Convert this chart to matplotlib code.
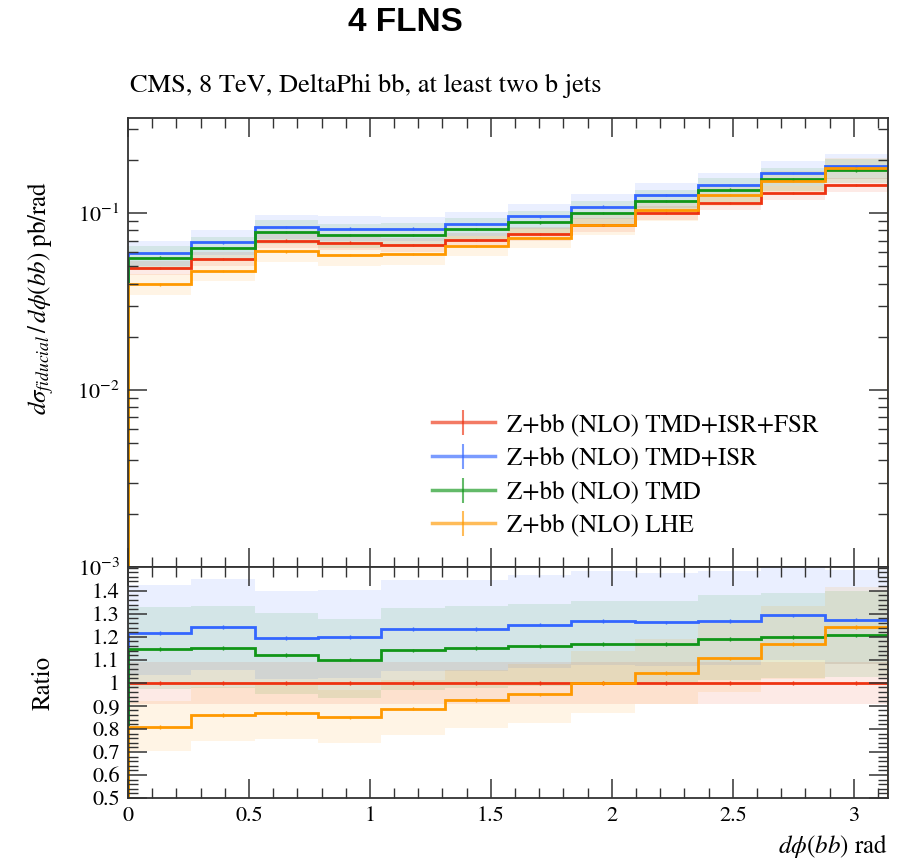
import numpy as np
import matplotlib.pyplot as plt
from matplotlib.lines import Line2D
from matplotlib.ticker import FixedLocator, MultipleLocator, LogLocator, NullFormatter

plt.rcParams['font.family'] = ['STIXGeneral', 'DejaVu Serif']
plt.rcParams['mathtext.fontset'] = 'stix'

# 12 bins in delta phi between the two b jets
edges = np.linspace(0, np.pi, 13)

# reference prediction (TMD+ISR+FSR), pb/rad
xsec_full = [0.0489, 0.0550, 0.0700, 0.0682, 0.0662, 0.0706,
             0.0764, 0.0859, 0.1000, 0.1140, 0.1300, 0.1445]

# ratios to the reference prediction
ratio_isr = [1.216, 1.241, 1.194, 1.200, 1.235, 1.235,
             1.253, 1.268, 1.262, 1.268, 1.293, 1.275]
ratio_tmd = [1.147, 1.150, 1.122, 1.101, 1.141, 1.150,
             1.159, 1.168, 1.169, 1.191, 1.200, 1.206]
ratio_lhe = [0.809, 0.860, 0.868, 0.850, 0.888, 0.926,
             0.950, 1.000, 1.044, 1.106, 1.168, 1.243]

labels = ['Z+bb (NLO) TMD+ISR+FSR', 'Z+bb (NLO) TMD+ISR',
          'Z+bb (NLO) TMD', 'Z+bb (NLO) LHE']
colors = ['#EE3311', '#3366FF', '#109618', '#FF9900']
# relative size of the uncertainty bands (up, down)
band_up = [0.09, 0.17, 0.16, 0.14]
band_down = [0.09, 0.15, 0.15, 0.13]

ratios = [np.ones(12), np.array(ratio_isr), np.array(ratio_tmd), np.array(ratio_lhe)]
ref = np.array(xsec_full)
centers = 0.5 * (edges[1:] + edges[:-1])

fig = plt.figure(figsize=(9.02, 8.68), dpi=100)
ax = fig.add_axes([0.1419, 0.3468, 0.8426, 0.5173])
rax = fig.add_axes([0.1419, 0.0806, 0.8426, 0.2662], sharex=ax)

for r, c, up, dn in zip(ratios, colors, band_up, band_down):
    vals = ref * r
    ax.stairs(vals * (1 + up), edges, baseline=vals * (1 - dn), fill=True,
              color=c, alpha=0.1, lw=0)
    rax.stairs(r * (1 + up), edges, baseline=r * (1 - dn), fill=True,
               color=c, alpha=0.1, lw=0)

for r, c in zip(ratios, colors):
    vals = ref * r
    ax.stairs(vals, edges, color=c, lw=2)
    ax.errorbar(centers, vals, yerr=0.015 * vals, fmt='none', ecolor=c, elinewidth=1)
    rax.stairs(r, edges, color=c, lw=2)
    rax.errorbar(centers, r, yerr=0.008, fmt='none', ecolor=c, elinewidth=1)

ax.set_yscale('log')
ax.set_ylim(1e-3, 0.345)
ax.set_xlim(0, np.pi)
ax.yaxis.set_major_locator(LogLocator(base=10, numticks=10))
ax.yaxis.set_minor_locator(LogLocator(base=10, subs=np.arange(2, 10), numticks=10))
ax.yaxis.set_minor_formatter(NullFormatter())
ax.tick_params(labelbottom=False)

rax.set_ylim(0.5, 1.503)
ratio_ticks = [0.5, 0.6, 0.7, 0.8, 0.9, 1.0, 1.1, 1.2, 1.3, 1.4]
rax.yaxis.set_major_locator(FixedLocator(ratio_ticks))
rax.set_yticklabels(['0.5', '0.6', '0.7', '0.8', '0.9', '1', '1.1', '1.2', '1.3', '1.4'])
rax.yaxis.set_minor_locator(MultipleLocator(0.02))
rax.xaxis.set_major_locator(FixedLocator([0, 0.5, 1, 1.5, 2, 2.5, 3]))
rax.xaxis.set_minor_locator(MultipleLocator(0.1))
rax.set_xticklabels(['0', '0.5', '1', '1.5', '2', '2.5', '3'])

for a in (ax, rax):
    a.tick_params(which='both', direction='in', top=True, right=True,
                  labelsize=16, color='#333333')
    a.tick_params(which='major', length=14, width=1.1, pad=6)
    a.tick_params(which='minor', length=7, width=1.0)
    for s in a.spines.values():
        s.set_linewidth(1.3)
        s.set_color('#333333')

ax.set_ylabel(r'$d\sigma_{fiducial}\,/\,d\phi(bb)$ pb/rad', fontsize=18)
rax.set_ylabel('Ratio', fontsize=18)
ax.yaxis.set_label_coords(-0.095, 0.6)
rax.yaxis.set_label_coords(-0.095, 0.5)
rax.set_xlabel(r'$d\phi(bb)$ rad', fontsize=18, loc='right')

handles = [Line2D([], [], color=c, lw=2.5, alpha=0.65, marker='|',
                  markersize=18, markeredgewidth=1.5) for c in colors]
ax.legend(handles, labels, loc='lower left', bbox_to_anchor=(0.4, 0.065),
          frameon=False, fontsize=18, handlelength=2.5, handletextpad=0.5,
          labelspacing=0.38, borderaxespad=0.0, borderpad=0.0)

fig.text(0.1441, 0.901, 'CMS, 8 TeV, DeltaPhi bb, at least two b jets',
         fontsize=19, ha='left', va='center')
fig.text(0.449, 0.974, '4 FLNS', fontsize=24, fontweight='bold',
         family='Liberation Sans', ha='center', va='center')

fig.savefig('out.png', dpi=100)
